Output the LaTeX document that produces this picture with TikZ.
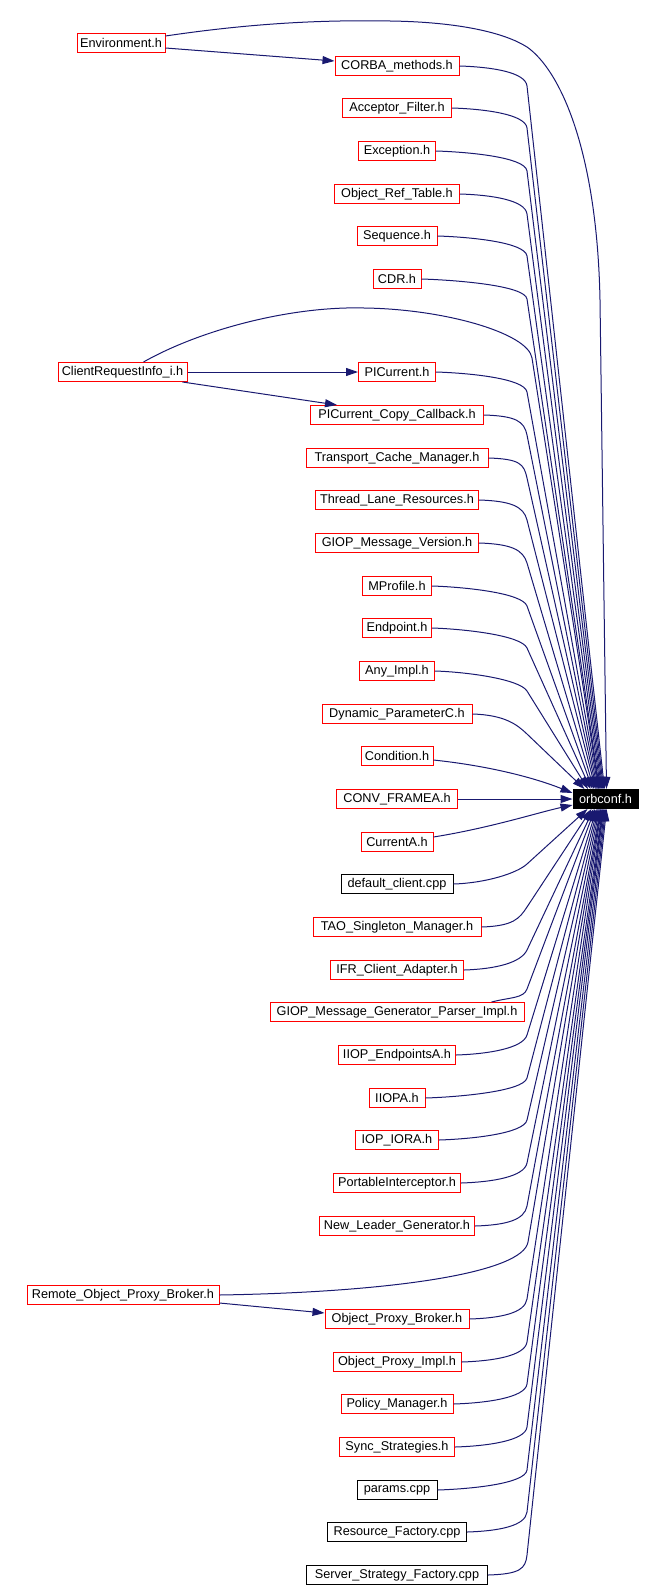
\documentclass[tikz,border=0pt]{standalone}
\usepackage{fontspec}
\setmainfont{Liberation Sans}
\usetikzlibrary{arrows.meta,calc}
\definecolor{edgeblue}{HTML}{191970}
\newcommand\nodefont{\fontsize{12.7}{15}\selectfont}
\tikzset{
  box/.style={draw=red, line width=1pt, fill=white, minimum height=19pt, inner xsep=2pt, inner ysep=0pt, font=\nodefont, text=black},
  blkbox/.style={box, draw=black},
  edge/.style={draw=edgeblue, line width=1pt, -{Triangle[length=12pt,width=8pt]}},
}
% above edges: #1 node, #2 bend y, #3 tip offset on top edge of orb
\newcommand\upedge[3]{%
  \coordinate (T#1) at ([xshift=#3pt]orb.north west);
  \coordinate (B#1) at (527,#2);
  \draw[edge] (#1.east) .. controls +(32,1) and ($(B#1)!-14pt!(T#1)$) .. (B#1) -- (T#1);}
\newcommand\downedge[3]{%
  \coordinate (T#1) at ([xshift=#3pt]orb.south west);
  \coordinate (B#1) at (527,#2);
  \draw[edge] (#1.east) .. controls +(32,-1) and ($(B#1)!-14pt!(T#1)$) .. (B#1) -- (T#1);}
\begin{document}
\begin{tikzpicture}[x=1pt,y=-1pt]
\useasboundingbox (0,0) rectangle (662,1587);
% left nodes
\node[box, minimum width=88pt]  (env)  at (121,43)   {Environment.h};
\node[box, minimum width=129pt] (crq)  at (122.5,372) {ClientRequestInfo\_i.h};
\node[box, minimum width=192pt] (ropb) at (123,1295) {Remote\_Object\_Proxy\_Broker.h};
% target
\node[draw=black, fill=black, text=white, line width=1pt, minimum height=19pt, minimum width=65pt, inner xsep=2pt, inner ysep=0pt, font=\nodefont] (orb) at (605.5,799) {orbconf.h};
% column nodes
\node[box, minimum width=124pt] (corba)  at (397,66)   {CORBA\_methods.h};
\node[box, minimum width=109pt] (acc)    at (397,108)  {Acceptor\_Filter.h};
\node[box, minimum width=77pt]  (exc)    at (397,151)  {Exception.h};
\node[box, minimum width=125pt] (ort)    at (397,194)  {Object\_Ref\_Table.h};
\node[box, minimum width=80pt]  (seq)    at (397,236)  {Sequence.h};
\node[box, minimum width=48pt]  (cdr)    at (397,279)  {CDR.h};
\node[box, minimum width=77pt]  (picur)  at (397,372)  {PICurrent.h};
\node[box, minimum width=173pt] (picc)   at (397,415)  {PICurrent\_Copy\_Callback.h};
\node[box, minimum width=182pt] (tcm)    at (397,458)  {Transport\_Cache\_Manager.h};
\node[box, minimum width=163pt] (tlr)    at (397,500)  {Thread\_Lane\_Resources.h};
\node[box, minimum width=163pt] (gmv)    at (397,543)  {GIOP\_Message\_Version.h};
\node[box, minimum width=69pt]  (mprof)  at (397,586)  {MProfile.h};
\node[box, minimum width=69pt]  (endp)   at (397,628)  {Endpoint.h};
\node[box, minimum width=75pt]  (anyi)   at (397,671)  {Any\_Impl.h};
\node[box, minimum width=150pt] (dyn)    at (397,714)  {Dynamic\_ParameterC.h};
\node[box, minimum width=72pt]  (cond)   at (397,756)  {Condition.h};
\node[box, minimum width=121pt] (conv)   at (397,799)  {CONV\_FRAMEA.h};
\node[box, minimum width=72pt]  (curA)   at (397,842)  {CurrentA.h};
\node[blkbox, minimum width=112pt] (defc) at (397,884) {default\_client.cpp};
\node[box, minimum width=168pt] (tao)    at (397,927)  {TAO\_Singleton\_Manager.h};
\node[box, minimum width=133pt] (ifr)    at (397,970)  {IFR\_Client\_Adapter.h};
\node[box, minimum width=254pt] (gen)    at (397,1012) {GIOP\_Message\_Generator\_Parser\_Impl.h};
\node[box, minimum width=117pt] (iiope)  at (397,1055) {IIOP\_EndpointsA.h};
\node[box, minimum width=56pt]  (iiopa)  at (397,1098) {IIOPA.h};
\node[box, minimum width=83pt]  (iora)   at (397,1140) {IOP\_IORA.h};
\node[box, minimum width=127pt] (pi)     at (397,1183) {PortableInterceptor.h};
\node[box, minimum width=155pt] (nlg)    at (397,1226) {New\_Leader\_Generator.h};
\node[box, minimum width=144pt] (opb)    at (397,1319) {Object\_Proxy\_Broker.h};
\node[box, minimum width=128pt] (opi)    at (397,1362) {Object\_Proxy\_Impl.h};
\node[box, minimum width=112pt] (pol)    at (397,1404) {Policy\_Manager.h};
\node[box, minimum width=115pt] (sync)   at (397,1447) {Sync\_Strategies.h};
\node[blkbox, minimum width=80pt]  (params) at (397,1490) {params.cpp};
\node[blkbox, minimum width=139pt] (res)    at (397,1532) {Resource\_Factory.cpp};
\node[blkbox, minimum width=181pt] (srv)    at (397,1575) {Server\_Strategy\_Factory.cpp};

% Environment edges
\draw[edge] ($(env.east)+(0,5)$) -- ($(corba.west)+(0,-5)$);
\coordinate (Tenv) at ([xshift=34pt]orb.north west);
\draw[edge] ($(env.north east)+(0,3)$) .. controls (260,22) and (330,20) .. (390,21)
  .. controls (460,22) and (505,33) .. (527,47)
  .. controls (560,70) and (597,150) .. (600,300) -- (Tenv);
% ClientRequestInfo edges
\draw[edge] (crq.east) -- (picur.west);
\draw[edge] ($(crq.south east)+(-5,0)$) -- ($(picc.north west)+(27,0)$);
\coordinate (Tcrq) at ([xshift=26.5pt]orb.north west);
\coordinate (Bcrq) at (532,358);
\draw[edge] ($(crq.north west)+(86,0)$) .. controls (200,330) and (290,306) .. (364,308)
  .. controls (445,309) and ($(Bcrq)!-25pt!(Tcrq)$) .. (Bcrq) -- (Tcrq);
% Remote_Object_Proxy_Broker edges
\draw[edge] ($(ropb.east)+(0,8)$) -- ($(opb.west)+(0,-6)$);
\coordinate (Tropb) at ([xshift=28.5pt]orb.south west);
\coordinate (Bropb) at (528,1242);
\draw[edge] (ropb.east) .. controls (400,1292) and ($(Bropb)!-30pt!(Tropb)$) .. (Bropb) -- (Tropb);

% column edges above
\upedge{corba}{86}{32}
\upedge{acc}{128}{31}
\upedge{exc}{171}{30}
\upedge{ort}{214}{29}
\upedge{seq}{256}{28}
\upedge{cdr}{299}{27}
\upedge{picur}{392}{26}
\upedge{picc}{435}{25}
\upedge{tcm}{478}{24}
\upedge{tlr}{520}{23}
\upedge{gmv}{563}{21.5}
\upedge{mprof}{606}{20}
\upedge{endp}{648}{18}
\upedge{anyi}{691}{15.5}
\upedge{dyn}{734}{12}
\draw[edge] ($(cond.east)+(0,4)$) .. controls (490,766) and (535,778) .. ([yshift=6pt]orb.west);
\draw[edge] (conv.east) -- (orb.west);
\draw[edge] ($(curA.east)+(0,-5)$) .. controls (490,828) and (540,812) .. ([yshift=-6pt]orb.west);
% column edges below
\downedge{defc}{864}{15}
\downedge{tao}{907}{19}
\downedge{ifr}{950}{21}
\coordinate (Tgen) at ([xshift=22.5pt]orb.south west);
\coordinate (Bgen) at (527,989);
\draw[edge] ($(gen.north east)+(-33,0)$) .. controls +(20,-5) and ($(Bgen)!-10pt!(Tgen)$) .. (Bgen) -- (Tgen);
\downedge{iiope}{1035}{24}
\downedge{iiopa}{1078}{25}
\downedge{iora}{1120}{26}
\downedge{pi}{1163}{27}
\downedge{nlg}{1206}{28}
\downedge{opb}{1299}{29}
\downedge{opi}{1342}{30}
\downedge{pol}{1384}{30.5}
\downedge{sync}{1427}{31}
\downedge{params}{1470}{32}
\downedge{res}{1512}{33}
\downedge{srv}{1555}{34}
\end{tikzpicture}
\end{document}
